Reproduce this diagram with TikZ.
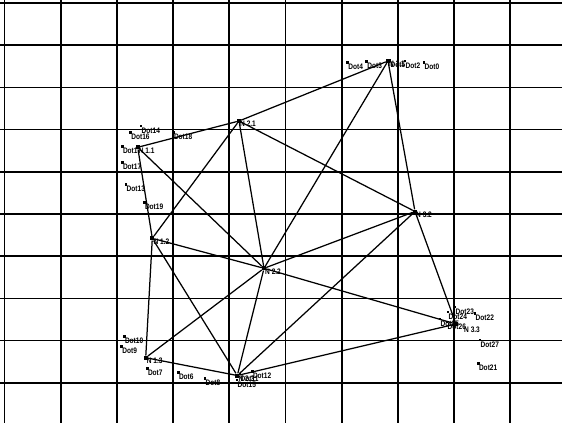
\documentclass[tikz,border=0pt]{standalone}
\usepackage{fontspec}
\setmainfont{Liberation Sans}
\newfontfamily\labfont[FakeStretch=0.82]{Liberation Sans}
\begin{document}
\begin{tikzpicture}[x=1pt,y=-1pt,
  gridline/.style={line width=1.7pt,black},
  edge/.style={line width=1.25pt,black},
  som/.style={fill=black,minimum size=4pt,inner sep=0pt,rectangle},
  datum/.style={fill=black,minimum size=2.5pt,inner sep=0pt,rectangle},
  nlab/.style={anchor=west,inner sep=0pt,font=\labfont\bfseries\fontsize{8}{9}\selectfont},
  dlab/.style={anchor=west,inner sep=0pt,font=\labfont\bfseries\fontsize{8}{9}\selectfont}]
\useasboundingbox (0,0) rectangle (562,423);
\fill[white] (0,0) rectangle (562,423);
% grid
\foreach \i in {0,...,9} {
  \draw[gridline] (4.5+56.2*\i,0) -- (4.5+56.2*\i,423);
  \draw[gridline] (0,3+42.2*\i) -- (562,3+42.2*\i);
}
% SOM nodes
\node[som] (n11) at (137.7,147.3) {};
\node[som] (n21) at (239,121) {};
\node[som] (n31) at (388,61) {};
\node[som] (n12) at (152.3,238.3) {};
\node[som] (n22) at (264,268.3) {};
\node[som] (n32) at (415,211.5) {};
\node[som] (n13) at (145.7,357.7) {};
\node[som] (n23) at (237.3,375.5) {};
\node[som] (n33) at (456,324) {};
% edges
\draw[edge] (n11) -- (n21);
\draw[edge] (n21) -- (n31);
\draw[edge] (n11) -- (n12);
\draw[edge] (n11) -- (n22);
\draw[edge] (n21) -- (n12);
\draw[edge] (n21) -- (n22);
\draw[edge] (n21) -- (n32);
\draw[edge] (n31) -- (n22);
\draw[edge] (n31) -- (n32);
\draw[edge] (n12) -- (n22);
\draw[edge] (n12) -- (n13);
\draw[edge] (n12) -- (n23);
\draw[edge] (n22) -- (n32);
\draw[edge] (n22) -- (n13);
\draw[edge] (n22) -- (n23);
\draw[edge] (n22) -- (n33);
\draw[edge] (n32) -- (n23);
\draw[edge] (n32) -- (n33);
\draw[edge] (n13) -- (n23);
\draw[edge] (n23) -- (n33);
% SOM labels
\node[nlab] (l11) at ([xshift=1pt,yshift=-3pt]n11.center) {N 1.1};
\node[nlab] (l21) at ([xshift=1pt,yshift=-3pt]n21.center) {N 2.1};
\node[nlab] (l31) at ([xshift=1pt,yshift=-3pt]n31.center) {N 3.1};
\node[nlab] (l12) at ([xshift=1pt,yshift=-3pt]n12.center) {N 1.2};
\node[nlab] (l22) at ([xshift=1pt,yshift=-3pt]n22.center) {N 2.2};
\node[nlab] (l32) at ([xshift=1pt,yshift=-3pt]n32.center) {N 3.2};
\node[nlab] (l13) at ([xshift=1pt,yshift=-3pt]n13.center) {N 1.3};
\node[nlab] (l23) at ([xshift=1pt,yshift=-3pt]n23.center) {N 2.3};
\node[nlab] (l33) at ([xshift=8pt,yshift=-6pt]n33.center) {N 3.3};
% data points
\foreach \nm/\px/\py in {
  Dot14/141/126, Dot16/130.7/132.7, Dot18/173.3/132.7, Dot1/122.3/146.7,
  Dot17/122.3/162.7, Dot13/126/184.3, Dot19/144.3/202.7,
  Dot10/124.3/336.7, Dot9/121.7/346.7, Dot7/147.3/368.3, Dot6/178.3/372.7,
  Dot8/205/378.3, Dot12/252.3/371.7, Dot15/237/380, Dot11/240/374,
  Dot4/347.7/62.3, Dot3/366.7/61.7, Dot5/390/60.5, Dot2/405/61, Dot0/424/62.3,
  Dot23/455/307, Dot22/475/313.3, Dot24/448/312, Dot25/440/319, Dot26/447/322,
  Dot27/480/340, Dot21/478.3/363.3} {
  \node[datum] (d\nm) at (\px,\py) {};
  \node[dlab] (t\nm) at ([xshift=0.5pt,yshift=-4.5pt]d\nm.center) {\nm};
}
\end{tikzpicture}
\end{document}
